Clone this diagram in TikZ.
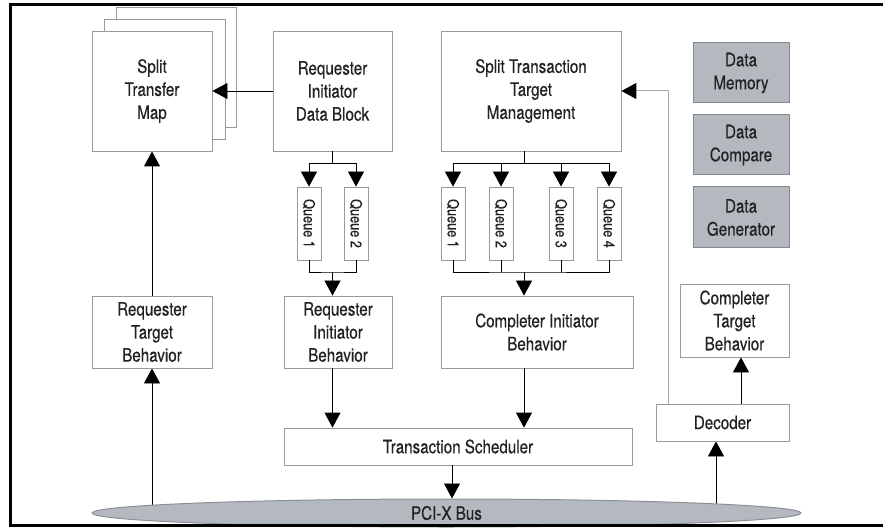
\documentclass[tikz,border=0pt]{standalone}
\usepackage{fontspec}
\setmainfont{TeX Gyre Heros}[FakeStretch=0.82,FakeBold=0.4]
\usetikzlibrary{arrows.meta,shapes.geometric,backgrounds}
\definecolor{boxline}{HTML}{9A9A9A}
\definecolor{datafill}{HTML}{B4B9C0}
\definecolor{dataline}{HTML}{85898F}
\definecolor{busline}{HTML}{8C9096}
\definecolor{txt}{HTML}{222222}
\definecolor{fbline}{HTML}{AAAAAA}
\begin{document}
\begin{tikzpicture}[x=1pt,y=-1pt,
 box/.style={draw=boxline, line width=0.8pt, fill=white, align=center, inner sep=1pt, text=txt, font=\fontsize{18.5}{23}\selectfont},
 databox/.style={box, fill=datafill, draw=dataline, line width=1pt, minimum width=96pt},
 qbox/.style={draw=boxline, line width=0.8pt, fill=white, minimum width=24pt, minimum height=73pt, inner sep=0pt, font=\fontsize{15.5}{16}\selectfont, text=txt},
 arr/.style={-{Triangle[width=16pt,length=15pt]}, line width=0.8pt, draw=black},
 conn/.style={line width=0.8pt, draw=black},
 grayarr/.style={draw=fbline, line width=1pt, -{Triangle[width=16pt,length=15pt,color=black]}},
 frame/.style={line width=3pt, draw=black}
]
\useasboundingbox (0,0) rectangle (883,529);

% Split transfer map stack
\node[box, minimum width=120pt, minimum height=120pt] (stm3) at (176,67) {};
\node[box, minimum width=121pt, minimum height=120pt] (stm2) at (164.5,79) {};
\node[box, minimum width=120pt, minimum height=120pt] (stm) at (152,91) {Split\\Transfer\\Map};

\node[box, minimum width=119pt, minimum height=120pt] (ridb) at (332.5,91) {Requester\\Initiator\\Data Block};
\node[box, minimum width=180pt, minimum height=120pt] (sttm) at (531,91) {Split Transaction\\Target\\Management};

\node[databox, minimum height=60pt] (dm) at (741,73) {Data\\Memory};
\node[databox, minimum height=60pt] (dc) at (741,145) {Data\\Compare};
\node[databox, minimum height=61pt] (dg) at (741,217.5) {Data\\Generator};

% queues
\node[qbox] (rq1) at (309,223.5) {\rotatebox{-90}{Queue 1}};
\node[qbox] (rq2) at (356,223.5) {\rotatebox{-90}{Queue 2}};
\node[qbox] (cq1) at (453,223.5) {\rotatebox{-90}{Queue 1}};
\node[qbox] (cq2) at (501,223.5) {\rotatebox{-90}{Queue 2}};
\node[qbox] (cq3) at (561,223.5) {\rotatebox{-90}{Queue 3}};
\node[qbox] (cq4) at (609,223.5) {\rotatebox{-90}{Queue 4}};

\node[box, minimum width=120pt, minimum height=72pt] (rtb) at (152,332) {Requester\\Target\\Behavior};
\node[box, minimum width=108pt, minimum height=72pt] (rib) at (338,332) {Requester\\Initiator\\Behavior};
\node[box, minimum width=192pt, minimum height=72pt] (cib) at (537,332) {Completer Initiator\\Behavior};
\node[box, minimum width=109pt, minimum height=73pt] (ctb) at (734.5,320.5) {Completer\\Target\\Behavior};

\node[box, minimum width=348pt, minimum height=37pt] (ts) at (458,446.5) {Transaction Scheduler};
\node[box, minimum width=133pt, minimum height=37pt] (dec) at (722.5,422.5) {Decoder};

\node[ellipse, draw=busline, line width=1pt, fill=datafill, minimum width=709pt, minimum height=28pt, inner sep=0pt, text=txt, font=\fontsize{18.5}{23}\selectfont] (bus) at (446.5,513) {PCI-X Bus};

% helper coordinates
\coordinate (rs) at (332.5,163);
\coordinate (rm) at (332.5,272);
\coordinate (cs) at (524,163);
\coordinate (cm) at (524,272);
\coordinate (tb) at (452,0);
\coordinate (db) at (716,0);
\coordinate (dx) at (741,0);
\coordinate (gx) at (668,0);

% connectors
\draw[arr] (ridb.west) -- (stm.east);
\draw[arr] (rtb.north) -- (stm.south);

\draw[conn] (ridb.south) -- (rs);
\draw[arr] (rs) -| (rq1.north);
\draw[arr] (rs) -| (rq2.north);
\draw[conn] (rq1.south) |- (rm) -| (rq2.south);
\draw[arr] (rm) -- (rm |- rib.north);
\draw[arr] (rm |- rib.south) -- (rm |- ts.north);

\draw[conn] (cs |- sttm.south) -- (cs);
\draw[arr] (cs) -| (cq1.north);
\draw[arr] (cs) -| (cq2.north);
\draw[arr] (cs) -| (cq3.north);
\draw[arr] (cs) -| (cq4.north);
\draw[conn] (cq1.south) |- (cm) -| (cq4.south);
\draw[conn] (cq2.south) -- (cq2.south |- cm);
\draw[conn] (cq3.south) -- (cq3.south |- cm);
\draw[arr] (cm) -- (cm |- cib.north);
\draw[arr] (cm |- cib.south) -- (cm |- ts.north);

\draw[arr] (ts.south -| tb) -- (tb |- bus.north);
\draw[arr] (dec.north -| dx) -- (ctb.south -| dx);
\draw[grayarr] (dec.north -| gx) |- (sttm.east);

\begin{pgfonlayer}{background}
\draw[arr] (rtb.south |- bus.center) -- (rtb.south);
\draw[arr] (db |- bus.center) -- (dec.south -| db);
\end{pgfonlayer}

% frame
\draw[frame] (883,4.5) -- (10.5,4.5) -- (10.5,525) -- (883,525);
\end{tikzpicture}
\end{document}
